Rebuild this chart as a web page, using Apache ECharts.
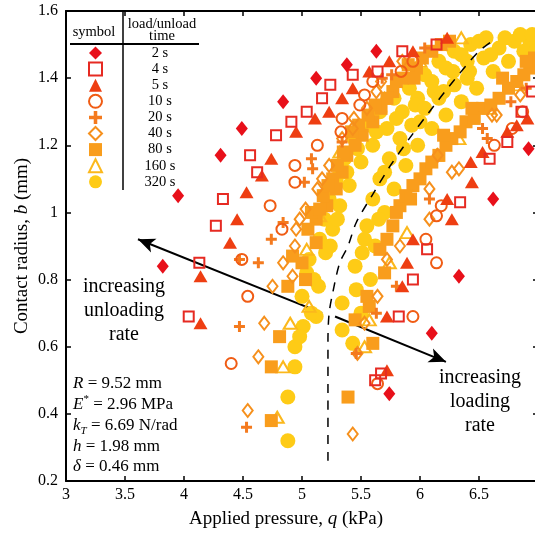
<!DOCTYPE html>
<html><head><meta charset="utf-8">
<script src="https://cdn.jsdelivr.net/npm/echarts@6/dist/echarts.min.js"></script>
<style>html,body{margin:0;padding:0;background:#fff}#c{width:535px;height:536px}</style>
</head><body><div id="c"></div><script>
// ---------------- data ----------------
const loadTimes = ['2 s','4 s','5 s','10 s','20 s','40 s','80 s','160 s','320 s'];

const t2 = [[3.82,0.84],[3.95,1.05],[4.31,1.17],[4.49,1.25],[4.84,1.33],[5.12,1.40],[5.38,1.44],[5.63,1.48],
  [5.74,0.46],[6.10,0.64],[6.33,0.81],[6.62,1.04],[6.92,1.19]];
const t4 = [[4.04,0.69],[4.13,0.85],[4.27,0.96],[4.33,1.04],[4.62,1.12],[4.56,1.17],[4.78,1.23],[4.91,1.27],[5.04,1.30],[5.17,1.34],[5.24,1.38],[5.43,1.41],[5.64,1.42],[5.85,1.48],[6.14,1.50],
  [5.62,0.50],[5.67,0.52],[5.82,0.69],[5.94,0.80],[6.06,0.89],[6.34,1.03],[6.59,1.16],[6.74,1.21],[6.86,1.30],[6.95,1.36]];
const t5 = [[4.14,0.67],[4.14,0.81],[4.39,0.91],[4.45,0.98],[4.53,1.06],[4.66,1.11],[4.74,1.16],[4.95,1.24],[5.11,1.28],[5.23,1.30],[5.34,1.34],[5.43,1.37],[5.57,1.42],[5.74,1.45],[5.94,1.48],[6.23,1.52],
  [5.72,0.53],[5.72,0.69],[5.85,0.78],[5.89,0.85],[5.94,0.92],[6.27,0.98],[6.23,1.04],[6.44,1.09],[6.43,1.15],[6.53,1.18],[6.74,1.24],[6.82,1.26],[6.91,1.28]];
const t10 = [[4.40,0.55],[4.54,0.75],[4.49,0.86],[4.83,0.95],[4.73,1.02],[4.94,1.09],[4.94,1.14],[5.13,1.20],[5.33,1.24],[5.34,1.28],[5.49,1.32],[5.53,1.35],[5.60,1.39],[5.84,1.42],[5.94,1.45],
  [5.64,0.49],[5.94,0.69],[6.14,0.85],[6.05,0.92],[6.14,0.99],[6.18,1.02],[6.63,1.20],[6.78,1.25],[6.87,1.30]];
const t20 = [[4.53,0.36],[4.47,0.66],[4.47,0.86],[4.63,0.85],[4.74,0.92],[4.84,0.97],[5.02,1.09],[5.09,1.13],[5.08,1.16],[5.34,1.21],[5.68,1.40],[5.76,1.41],[6.04,1.49],
  [5.46,0.58],[5.63,0.70],[5.80,0.78],[6.08,1.04],[6.53,1.25],[6.57,1.22],[6.77,1.33],[6.90,1.37]];
const t40 = [[4.54,0.41],[4.63,0.57],[4.68,0.67],[4.75,0.78],[4.84,0.85],[4.92,0.81],[4.94,0.90],[4.95,0.95],[4.98,0.98],[5.03,1.01],[5.13,1.07],[5.17,1.10],[5.23,1.14],[5.34,1.22],[5.43,1.25],[5.44,1.28],[5.55,1.31],[5.63,1.36],[5.67,1.39],[5.85,1.45],
  [5.43,0.34],[5.47,0.58],[5.53,0.67],[5.64,0.75],[5.72,0.86],[5.83,0.90],[6.08,0.98],[6.08,1.07],[6.27,1.12],[6.33,1.13],[6.15,1.17],[6.61,1.29],[6.65,1.29],[6.85,1.35]];
const t80 = [[4.74,0.38],[4.74,0.54],[4.81,0.63],[4.88,0.78],[4.92,0.87],[5.03,0.80],[5.12,0.91],[5.12,0.98],[5.21,1.02],[5.29,1.07],[5.34,1.12],[5.38,1.17],[5.51,1.23],[5.60,1.27],[5.67,1.31],[5.77,1.36],[5.85,1.40],[5.97,1.43],[6.10,1.48],[6.25,1.51],
  [5.05,0.95],[5.18,1.05],[5.26,1.10],[5.45,1.20],[5.56,1.29],[5.72,1.34],[5.90,1.44],[6.02,1.46],[6.18,1.50],[5.00,0.85],[5.08,1.00],[5.30,1.14],[5.42,1.24],
  [5.15,1.01],[5.22,1.08],[5.35,1.18],[5.48,1.26],[5.62,1.32],[5.80,1.39],[5.95,1.40],
  [5.39,0.45],[5.60,0.61],[5.45,0.68],[5.57,0.72],[5.55,0.75],[5.70,0.82],[5.66,0.89],[5.77,0.96],[5.83,1.02],[5.94,1.08],[6.05,1.13],[6.16,1.17],[6.27,1.22],[6.39,1.27],[6.53,1.31],[6.67,1.34],[6.82,1.39],[6.93,1.43],
  [5.72,0.92],[5.88,1.05],[6.00,1.10],[6.10,1.15],[6.22,1.20],[6.34,1.24],[6.46,1.28],[6.60,1.32],[6.75,1.37],[6.88,1.41],[6.97,1.46],
  [5.80,1.00],[5.92,1.04],[6.20,1.23],[6.44,1.31],[6.70,1.40],[6.90,1.45]];
const t160 = [[4.79,0.39],[4.84,0.54],[4.90,0.67],[5.06,0.72],[5.04,0.89],[5.15,0.99],[5.32,1.18],[5.49,1.26],[5.70,1.34],[6.00,1.45],[6.35,1.52],
  [5.53,0.60],[5.57,0.68],[5.74,0.85],[5.89,0.94],[6.14,1.17],[6.33,1.22],[6.59,1.31],[6.84,1.38]];
const t320 = [[4.88,0.32],[4.88,0.45],[4.94,0.54],[4.94,0.60],[5.01,0.66],[5.12,0.69],[4.98,0.63],[5.04,0.82],[5.06,0.86],[5.15,0.92],[5.19,0.98],[5.23,1.04],[5.29,1.10],[5.36,1.16],[5.44,1.22],[5.55,1.26],[5.66,1.30],[5.78,1.34],[5.91,1.37],[6.04,1.41],[6.16,1.45],[6.29,1.48],[6.43,1.50],
  [5.00,0.75],[5.10,0.80],[5.20,0.88],[5.26,0.95],[5.32,1.02],[5.40,1.08],[5.50,1.15],[5.60,1.20],[5.72,1.25],[5.85,1.30],[5.98,1.34],[6.10,1.39],[6.22,1.43],[6.35,1.47],[6.50,1.51],[6.56,1.52],
  [5.08,0.70],[5.14,0.78],[5.24,0.90],[5.30,0.98],[5.38,1.12],[5.47,1.19],[5.63,1.24],[5.80,1.28],[5.96,1.32],[6.12,1.36],[6.28,1.42],[6.40,1.45],
  [5.34,0.73],[5.34,0.65],[5.43,0.61],[5.45,0.84],[5.46,0.77],[5.51,0.88],[5.55,0.96],[5.60,1.04],[5.66,1.10],[5.74,1.16],[5.83,1.22],[5.93,1.26],[6.04,1.31],[6.16,1.34],[6.29,1.38],[6.42,1.42],[6.54,1.46],[6.67,1.49],[6.80,1.51],[6.93,1.51],
  [5.50,0.70],[5.58,0.80],[5.62,0.90],[5.70,1.00],[5.78,1.07],[5.88,1.14],[5.98,1.20],[6.10,1.25],[6.22,1.29],[6.35,1.33],[6.48,1.37],[6.62,1.42],[6.75,1.45],[6.88,1.48],[6.98,1.48],[6.72,1.52],[6.85,1.53],
  [5.53,0.92],[5.65,0.98],[5.70,1.12],[5.86,1.19],[6.00,1.27],[6.20,1.36],[6.40,1.40],[6.60,1.47],[6.95,1.53]];

const seriesData = [t2, t4, t5, t10, t20, t40, t80, t160, t320];

const dashCurve = [[5.22,0.26],[5.22,0.45],[5.22,0.62],[5.23,0.70],[5.26,0.76],[5.32,0.85],[5.39,0.90],[5.46,0.97],[5.61,1.06],[5.75,1.14],[5.92,1.225],[6.08,1.30],[6.28,1.39],[6.50,1.48],[6.65,1.52]];
const arrowUnload = [[5.17,0.70],[3.61,0.92]];
const arrowLoad = [[5.28,0.69],[6.22,0.555]];

const xRange = [3, 7, 0.5];
const yRange = [0.2, 1.6, 0.2];

// ---------------- styles ----------------
const FONT = 'Liberation Serif';
const PLUS = 'path://M4,0h3v4h4v3h-4v4h-3v-4h-4v-3h4z';
const styles = [
  {symbol:'diamond', color:'#e8101a', fill:true,  size:[12,15]},
  {symbol:'rect',    color:'#e62a22', fill:false, size:10},
  {symbol:'triangle',color:'#ee3e12', fill:true,  size:[14,12]},
  {symbol:'circle',  color:'#f05c14', fill:false, size:11},
  {symbol:PLUS,      color:'#f47a1e', fill:true,  size:11},
  {symbol:'diamond', color:'#f6901c', fill:false, size:[10,13]},
  {symbol:'rect',    color:'#f99d1c', fill:true,  size:13},
  {symbol:'triangle',color:'#fbb81c', fill:false, size:[13,11]},
  {symbol:'circle',  color:'#fecb16', fill:true,  size:15}
];

const scatterSeries = loadTimes.map((name, i) => {
  const s = styles[i];
  return {
    type: 'scatter', name, data: seriesData[i],
    symbol: s.symbol, symbolSize: s.size,
    itemStyle: s.fill ? {color: s.color, opacity: 1}
                      : {color: 'rgba(255,255,255,0)', borderColor: s.color, borderWidth: 2, opacity: 1},
    emphasis: {disabled: true},
    silent: true,
    z: 20 - i
  };
}).reverse();

const axisCommon = {
  axisLine: {show: true, onZero: false, lineStyle: {color: '#000', width: 2}},
  axisTick: {show: true, inside: true, length: 5, lineStyle: {color: '#000', width: 1.5}},
  splitLine: {show: false}
};
function mkAxis(r, extra) {
  return Object.assign({}, axisCommon, {type: 'value', min: r[0], max: r[1], interval: r[2]}, extra);
}

const option = {
  animation: false,
  backgroundColor: '#fff',
  grid: {left: 66, top: 11, right: -3, bottom: 55, containLabel: false, outerBoundsMode: 'none'},
  xAxis: [
    mkAxis(xRange, {position: 'bottom', axisLabel: {show: true, showMaxLabel: true, showMinLabel: true, hideOverlap: false, color: '#000', fontFamily: FONT, fontSize: 16, margin: 6}}),
    mkAxis(xRange, {position: 'top', axisLabel: {show: false}})
  ],
  yAxis: [
    mkAxis(yRange, {position: 'left', axisLabel: {show: true, showMaxLabel: true, showMinLabel: true, color: '#000', fontFamily: FONT, fontSize: 16, margin: 8}}),
    mkAxis(yRange, {position: 'right', axisLabel: {show: false}})
  ],
  legend: {
    data: loadTimes, orient: 'vertical', left: 88, top: 45.5, padding: 0,
    itemWidth: 13, itemHeight: 13, itemGap: 1.1, selectedMode: false,
    formatter: n => '{a|' + n + '}',
    textStyle: {color: '#000', fontFamily: FONT, fontSize: 14.5,
      rich: {a: {width: 106, align: 'center', fontFamily: FONT, fontSize: 14.5, lineHeight: 13, color: '#000'}}}
  },
  series: scatterSeries.concat([
    {
      type: 'line', name: 'boundary', data: dashCurve, smooth: 0.3, showSymbol: false, symbol: 'none',
      lineStyle: {color: '#000', width: 1.5, type: [9, 8]}, silent: true, z: 30,
      markLine: {
        silent: true, symbol: ['none', 'arrow'], symbolSize: [11, 17],
        label: {show: false},
        lineStyle: {color: '#000', width: 2, type: 'solid'},
        data: [
          [{coord: arrowUnload[0]}, {coord: arrowUnload[1]}],
          [{coord: arrowLoad[0]}, {coord: arrowLoad[1]}]
        ]
      }
    }
  ]),
  graphic: [
    {type: 'line', shape: {x1: 123, y1: 11, x2: 123, y2: 190}, style: {stroke: '#000', lineWidth: 1.5}, z: 50},
    {type: 'line', shape: {x1: 70, y1: 44, x2: 199, y2: 44}, style: {stroke: '#000', lineWidth: 2}, z: 50},
    {type: 'text', x: 94, y: 32, style: {text: 'symbol', font: '14.5px "Liberation Serif"', fill: '#000', align: 'center', verticalAlign: 'middle'}, z: 50},
    {type: 'text', x: 162, y: 24, style: {text: 'load/unload', font: '14.5px "Liberation Serif"', fill: '#000', align: 'center', verticalAlign: 'middle'}, z: 50},
    {type: 'text', x: 162, y: 36, style: {text: 'time', font: '14.5px "Liberation Serif"', fill: '#000', align: 'center', verticalAlign: 'middle'}, z: 50},
    {type: 'text', x: 124, y: 311, style: {text: 'increasing\nunloading\nrate', font: '20px "Liberation Serif"', lineHeight: 24, fill: '#000', align: 'center', verticalAlign: 'middle'}, z: 50},
    {type: 'text', x: 480, y: 402, style: {text: 'increasing\nloading\nrate', font: '20px "Liberation Serif"', lineHeight: 24, fill: '#000', align: 'center', verticalAlign: 'middle'}, z: 50},
    {type: 'text', x: 73, y: 384, z: 50, style: {text: '{i|R}{n| = 9.52 mm}', verticalAlign: 'middle', rich: {
      i: {fontFamily: FONT, fontStyle: 'italic', fontSize: 17, lineHeight: 22}, n: {fontFamily: FONT, fontSize: 17, lineHeight: 22}}}},
    {type: 'text', x: 73, y: 405, z: 50, style: {text: '{i|E}{s|*}{n| = 2.96 MPa}', verticalAlign: 'middle', rich: {
      i: {fontFamily: FONT, fontStyle: 'italic', fontSize: 17, lineHeight: 22}, s: {fontFamily: FONT, fontSize: 11, lineHeight: 22, verticalAlign: 'top'}, n: {fontFamily: FONT, fontSize: 17, lineHeight: 22}}}},
    {type: 'text', x: 73, y: 426, z: 50, style: {text: '{i|k}{b|T}{n| = 6.69 N/rad}', verticalAlign: 'middle', rich: {
      i: {fontFamily: FONT, fontStyle: 'italic', fontSize: 17, lineHeight: 22}, b: {fontFamily: FONT, fontStyle: 'italic', fontSize: 11, lineHeight: 22, verticalAlign: 'bottom'}, n: {fontFamily: FONT, fontSize: 17, lineHeight: 22}}}},
    {type: 'text', x: 73, y: 447, z: 50, style: {text: '{i|h}{n| = 1.98 mm}', verticalAlign: 'middle', rich: {
      i: {fontFamily: FONT, fontStyle: 'italic', fontSize: 17, lineHeight: 22}, n: {fontFamily: FONT, fontSize: 17, lineHeight: 22}}}},
    {type: 'text', x: 73, y: 467, z: 50, style: {text: '{i|δ}{n| = 0.46 mm}', verticalAlign: 'middle', rich: {
      i: {fontFamily: FONT, fontStyle: 'italic', fontSize: 17, lineHeight: 22}, n: {fontFamily: FONT, fontSize: 17, lineHeight: 22}}}},
    {type: 'text', x: 286, y: 519, z: 50, style: {text: '{n|Applied pressure, }{i|q}{n| (kPa)}', align: 'center', verticalAlign: 'middle', rich: {
      i: {fontFamily: FONT, fontStyle: 'italic', fontSize: 19}, n: {fontFamily: FONT, fontSize: 19}}}},
    {type: 'text', x: 22, y: 246, rotation: Math.PI / 2, z: 50, style: {text: '{n|Contact radius, }{i|b}{n| (mm)}', align: 'center', verticalAlign: 'middle', rich: {
      i: {fontFamily: FONT, fontStyle: 'italic', fontSize: 19}, n: {fontFamily: FONT, fontSize: 19}}}}
  ]
};

const chart = echarts.init(document.getElementById('c'), null, {renderer: 'canvas'});
chart.setOption(option);
</script></body></html>
